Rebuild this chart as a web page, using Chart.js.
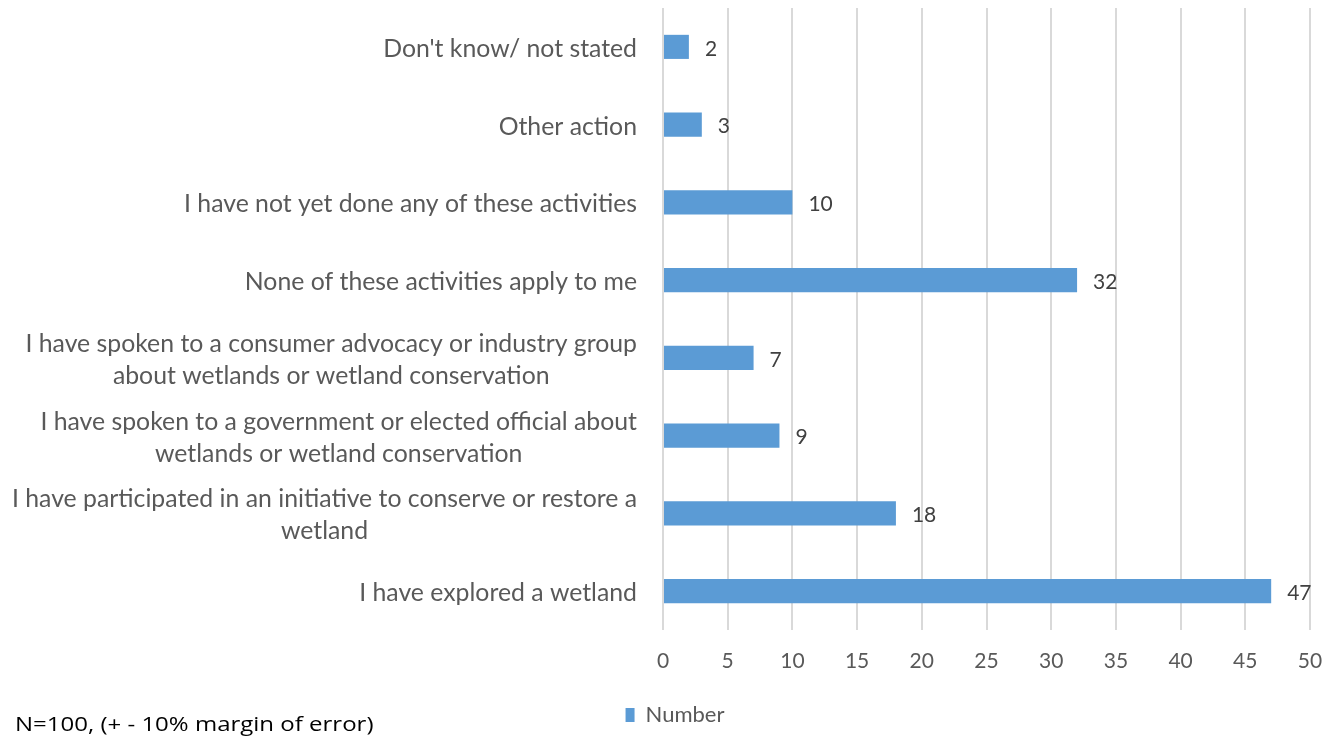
<!DOCTYPE html>
<html>
<head>
<meta charset="utf-8">
<script src="https://cdn.jsdelivr.net/npm/chart.js@4/dist/chart.umd.min.js"></script>
<style>
  html, body { margin: 0; padding: 0; background: #fff; }
  #wrap { position: relative; width: 1330px; height: 737px; }
  #note {
    position: absolute; left: 15px; top: 710px;
    font: 20px "Open Sans", sans-serif; color: #000; white-space: nowrap;
    transform: scaleX(1.2); transform-origin: left center;
  }
</style>
</head>
<body>
<div id="wrap">
  <canvas id="chart" width="1330" height="737"></canvas>
  <div id="note">N=100, (+ - 10% margin of error)</div>
</div>
<script>
// categories, top to bottom (multi-line labels as arrays)
const categories = [
  ["Don't know/ not stated"],
  ["Other action"],
  ["I have not yet done any of these activities"],
  ["None of these activities apply to me"],
  ["I have spoken to a consumer advocacy or industry group", "about wetlands or wetland conservation"],
  ["I have spoken to a government or elected official about", "wetlands or wetland conservation"],
  ["I have participated in an initiative to conserve or restore a", "wetland"],
  ["I have explored a wetland"]
];
const values = [2, 3, 10, 32, 7, 9, 18, 47];
const seriesName = "Number";
const axisMax = 50;
const axisStep = 5;

const FONT = "Lato, sans-serif";
const LABEL_COLOR = "#595959";
const BAR_COLOR = "#5b9bd5";

// category labels: block right-aligned to the axis, lines centered inside the block
const categoryLabels = {
  id: "categoryLabels",
  afterDraw(chart) {
    const ctx = chart.ctx;
    const yScale = chart.scales.y;
    const right = chart.chartArea.left - 26;
    const lineH = 32;
    ctx.save();
    ctx.font = "24.8px " + FONT;
    ctx.fillStyle = LABEL_COLOR;
    ctx.textBaseline = "middle";
    ctx.textAlign = "center";
    categories.forEach((lines, i) => {
      const cy = yScale.getPixelForValue(i) + 2;
      const maxW = Math.max(...lines.map(l => ctx.measureText(l).width));
      const cx = right - maxW / 2;
      lines.forEach((l, j) => {
        ctx.fillText(l, cx, cy + (j - (lines.length - 1) / 2) * lineH);
      });
    });
    ctx.restore();
  }
};

// value labels at the end of each bar
const valueLabels = {
  id: "valueLabels",
  afterDatasetsDraw(chart) {
    const ctx = chart.ctx;
    const meta = chart.getDatasetMeta(0);
    ctx.save();
    ctx.font = "21px " + FONT;
    ctx.fillStyle = "#404040";
    ctx.textBaseline = "middle";
    ctx.textAlign = "left";
    meta.data.forEach((bar, i) => {
      ctx.fillText(String(values[i]), bar.x + 16, bar.y + 2);
    });
    ctx.restore();
  }
};

new Chart(document.getElementById("chart"), {
  type: "bar",
  data: {
    labels: categories.map(c => c.join(" ")),
    datasets: [{
      label: seriesName,
      data: values,
      backgroundColor: BAR_COLOR,
      categoryPercentage: 1,
      barPercentage: 0.31
    }]
  },
  options: {
    indexAxis: "y",
    responsive: false,
    animation: false,
    layout: { padding: { top: 8, right: 20, bottom: 1, left: 40 } },
    plugins: {
      tooltip: { enabled: false },
      legend: {
        position: "bottom",
        labels: {
          boxWidth: 9,
          boxHeight: 14,
          color: LABEL_COLOR,
          font: { family: FONT, size: 22 }
        }
      }
    },
    scales: {
      x: {
        min: 0,
        max: axisMax,
        ticks: { stepSize: axisStep, padding: 19, color: LABEL_COLOR, font: { family: FONT, size: 21 } },
        grid: { color: "#d9d9d9", lineWidth: 2, drawTicks: false },
        border: { display: false },
        afterFit(scale) {
          scale.height = 64;
          scale.paddingLeft = 0;
          scale.paddingRight = 0;
        }
      },
      y: {
        ticks: { display: false },
        grid: { display: false },
        border: { display: false },
        afterFit(scale) { scale.width = 623; }
      }
    }
  },
  plugins: [categoryLabels, valueLabels]
});
</script>
</body>
</html>
